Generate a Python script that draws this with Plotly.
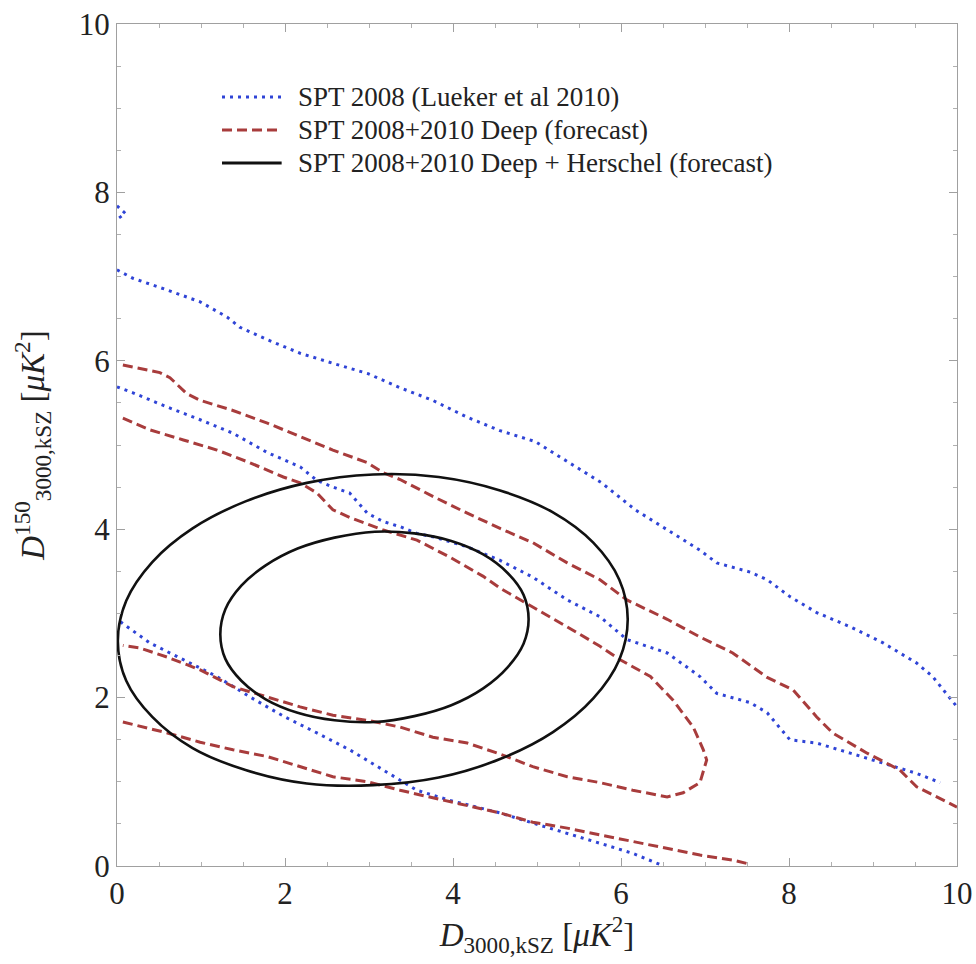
import plotly.graph_objects as go

# ---------------- data ----------------
# SPT 2008 (Lueker et al 2010) contour pieces
blue_a_x = [0.0, 0.10, 0.0]
blue_a_y = [7.84, 7.75, 7.68]

blue_b_x = [0.0, 0.19, 0.6, 0.99, 1.31, 1.46, 1.79, 2.18, 2.57, 2.98, 3.37, 3.76, 4.17, 4.56,
            4.98, 5.38, 5.77, 6.17, 6.55, 6.94, 7.14, 7.54, 7.74, 8.01, 8.33, 8.73, 9.12, 9.52, 9.71, 10.0]
blue_b_y = [7.08, 6.98, 6.84, 6.70, 6.52, 6.40, 6.25, 6.09, 5.97, 5.85, 5.68, 5.53, 5.33, 5.17,
            5.04, 4.79, 4.55, 4.23, 3.99, 3.75, 3.60, 3.49, 3.40, 3.20, 3.01, 2.84, 2.65, 2.41, 2.25, 1.89]

blue_c_x = [0.0, 0.19, 0.6, 0.99, 1.38, 1.79, 2.18, 2.38, 2.57, 2.77, 2.98, 3.17, 3.37, 3.57, 3.76,
            4.17, 4.56, 4.95, 5.36, 5.75, 6.07, 6.55, 6.94, 7.14, 7.54, 7.74, 8.01, 8.33, 8.73, 9.12, 9.52, 9.80]
blue_c_y = [5.69, 5.62, 5.45, 5.30, 5.14, 4.91, 4.74, 4.58, 4.50, 4.43, 4.19, 4.09, 4.03, 3.95, 3.91,
            3.79, 3.63, 3.43, 3.16, 2.96, 2.69, 2.53, 2.25, 2.05, 1.94, 1.82, 1.50, 1.46, 1.34, 1.22, 1.10, 0.99]

blue_d_x = [0.04, 0.39, 0.79, 1.19, 1.58, 1.98, 2.38, 2.77, 3.17, 3.57, 3.96, 4.56, 4.95, 5.36, 5.75, 6.14, 6.46]
blue_d_y = [2.90, 2.65, 2.45, 2.25, 2.01, 1.78, 1.58, 1.38, 1.14, 0.90, 0.78, 0.63, 0.51, 0.39, 0.27, 0.15, 0.02]

# SPT 2008+2010 Deep (forecast) contour pieces
red_a_x = [0.07, 0.51, 0.63, 0.83, 0.99, 1.38, 1.79, 2.18, 2.57, 2.98, 3.17, 3.37, 3.76, 4.17, 4.56,
           4.95, 5.36, 5.75, 6.07, 6.55, 6.94, 7.33, 7.74, 8.05, 8.33, 8.52, 8.93, 9.32, 9.52, 10.0]
red_a_y = [5.95, 5.86, 5.80, 5.61, 5.53, 5.41, 5.26, 5.10, 4.94, 4.79, 4.67, 4.59, 4.39, 4.19, 4.01,
           3.84, 3.60, 3.40, 3.16, 2.93, 2.72, 2.53, 2.24, 2.09, 1.77, 1.58, 1.34, 1.14, 0.94, 0.70]

red_b_x = [0.07, 0.39, 0.79, 1.19, 1.58, 1.98, 2.18, 2.38, 2.57, 2.77, 3.17, 3.57, 3.96, 4.36, 4.56,
           4.95, 5.36, 5.75, 5.99, 6.35, 6.62, 6.86, 6.98, 7.02, 6.94, 6.74, 6.55, 6.14, 5.75, 5.36,
           4.95, 4.56, 4.17, 3.76, 3.37, 2.98, 2.57, 2.18, 1.79, 1.38, 0.99, 0.60, 0.27, 0.07]
red_b_y = [5.32, 5.18, 5.06, 4.94, 4.79, 4.62, 4.55, 4.43, 4.23, 4.14, 3.99, 3.87, 3.67, 3.44, 3.30,
           3.08, 2.84, 2.61, 2.45, 2.25, 1.97, 1.65, 1.38, 1.26, 0.99, 0.87, 0.82, 0.90, 0.99, 1.06,
           1.18, 1.33, 1.46, 1.53, 1.65, 1.73, 1.79, 1.89, 2.01, 2.13, 2.33, 2.48, 2.59, 2.62]

red_c_x = [0.07, 0.60, 0.99, 1.38, 1.79, 2.18, 2.57, 2.98, 3.37, 3.76, 4.17, 4.56, 4.95, 5.36, 5.75,
           6.14, 6.55, 6.94, 7.33, 7.54]
red_c_y = [1.71, 1.58, 1.47, 1.38, 1.30, 1.18, 1.06, 1.00, 0.90, 0.81, 0.72, 0.63, 0.52, 0.45, 0.37,
           0.29, 0.21, 0.13, 0.07, 0.02]

# SPT 2008+2010 Deep + Herschel (forecast) contours (points read around each ellipse)
black_outer_x = [6.08, 5.98, 5.67, 5.19, 4.56, 3.83, 3.05, 2.26, 1.53, 0.90, 0.42, 0.11,
                 0.01, 0.11, 0.42, 0.90, 1.53, 2.26, 3.05, 3.83, 4.56, 5.19, 5.67, 5.98, 6.08]
black_outer_y = [2.93, 3.40, 3.84, 4.20, 4.46, 4.62, 4.65, 4.55, 4.33, 4.01, 3.61, 3.15,
                 2.67, 2.20, 1.77, 1.40, 1.14, 0.98, 0.96, 1.05, 1.27, 1.59, 1.99, 2.45, 2.93]

black_inner_x = [4.90, 4.84, 4.65, 4.36, 3.98, 3.54, 3.07, 2.59, 2.15, 1.77, 1.48, 1.29,
                 1.23, 1.29, 1.48, 1.77, 2.15, 2.59, 3.07, 3.54, 3.98, 4.36, 4.65, 4.84, 4.90]
black_inner_y = [2.93, 3.22, 3.48, 3.70, 3.86, 3.95, 3.97, 3.90, 3.77, 3.57, 3.33, 3.05,
                 2.75, 2.46, 2.20, 1.98, 1.82, 1.73, 1.71, 1.78, 1.91, 2.11, 2.36, 2.64, 2.93]

x_tick_vals = [0, 2, 4, 6, 8, 10]
y_tick_vals = [0, 2, 4, 6, 8, 10]

legend_names = ["SPT 2008 (Lueker et al 2010)",
                "SPT 2008+2010 Deep (forecast)",
                "SPT 2008+2010 Deep + Herschel (forecast)"]

# ---------------- styles ----------------
BLUE = "#2f44d6"
RED = "#a83c3c"
BLACK = "#111111"
FONT = "Liberation Serif, Times New Roman, serif"
TXT = "#222222"

blue_line = dict(color=BLUE, width=3, dash="3px,5px")
red_line = dict(color=RED, width=3, dash="10px,5px")
black_line = dict(color=BLACK, width=2.6)

fig = go.Figure()

blue_sets = [(blue_b_x, blue_b_y), (blue_a_x, blue_a_y), (blue_c_x, blue_c_y), (blue_d_x, blue_d_y)]
for xs, ys in blue_sets:
    fig.add_trace(go.Scatter(x=xs, y=ys, mode="lines", line=blue_line, name=legend_names[0],
                             showlegend=False, hoverinfo="skip"))

red_sets = [(red_a_x, red_a_y), (red_b_x, red_b_y), (red_c_x, red_c_y)]
for xs, ys in red_sets:
    fig.add_trace(go.Scatter(x=xs, y=ys, mode="lines", line=red_line, name=legend_names[1],
                             showlegend=False, hoverinfo="skip"))

black_sets = [(black_outer_x, black_outer_y), (black_inner_x, black_inner_y)]
for xs, ys in black_sets:
    fig.add_trace(go.Scatter(x=xs, y=ys, mode="lines",
                             line=dict(black_line, shape="spline", smoothing=1.0),
                             name=legend_names[2], showlegend=False, hoverinfo="skip"))

# ---- legend (drawn in paper coordinates, rows tightly spaced as in the reference) ----
legend_styles = [blue_line, red_line, dict(color=BLACK, width=3)]
row_y = [0.9133, 0.8741, 0.8349]
for name, style, yy in zip(legend_names, legend_styles, row_y):
    fig.add_shape(type="line", xref="paper", yref="paper", x0=0.125, x1=0.196, y0=yy, y1=yy,
                  line=style)
    fig.add_annotation(xref="paper", yref="paper", x=0.213, y=yy, xanchor="left", yanchor="middle",
                       text=name, showarrow=False, font=dict(family=FONT, size=27, color=TXT))

axis_common = dict(
    range=[0, 10], showgrid=False, zeroline=False, automargin=False,
    showline=True, linecolor="#a0a0a0", linewidth=1, mirror="ticks",
    ticks="inside", ticklen=8, tickwidth=1, tickcolor="#a0a0a0",
    minor=dict(dtick=0.5, ticks="inside", ticklen=4, tickwidth=1, tickcolor="#b0b0b0"),
    tickfont=dict(family=FONT, size=31, color=TXT),
)

fig.update_xaxes(**axis_common, tickvals=x_tick_vals,
                 title=dict(text="<i>D</i><sub>3000,kSZ</sub> [<i>μK</i><sup>2</sup>]",
                            font=dict(family=FONT, size=33, color=TXT), standoff=6))
fig.update_yaxes(**axis_common, tickvals=y_tick_vals,
                 title=dict(text="<i>D</i><sup>150</sup><sub>3000,kSZ</sub> [<i>μK</i><sup>2</sup>]",
                            font=dict(family=FONT, size=33, color=TXT), standoff=24))

fig.update_layout(
    width=976, height=964,
    margin=dict(l=117, r=19, t=24, b=98),
    paper_bgcolor="white", plot_bgcolor="white",
    showlegend=False,
)

fig.write_html("out.html")
